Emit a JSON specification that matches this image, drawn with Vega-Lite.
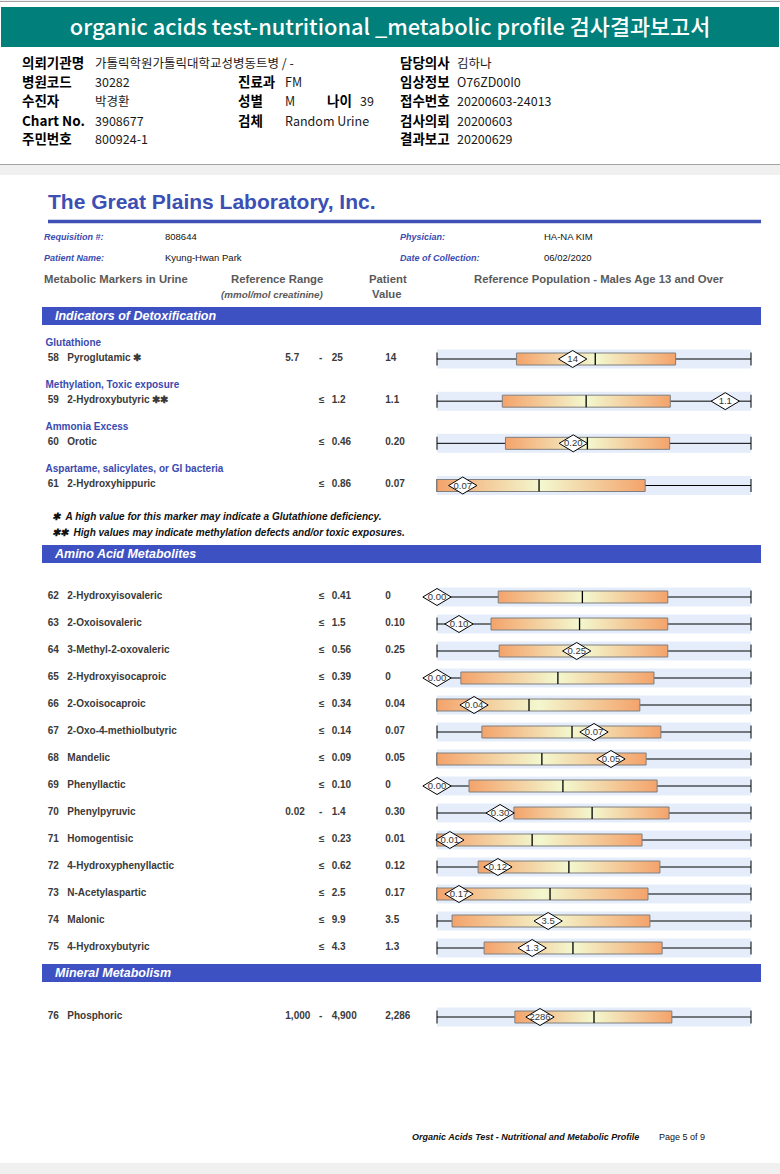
{
"$schema": "https://vega.github.io/schema/vega-lite/v6.json",
"width": 780, "height": 1174, "padding": 0,
"autosize": {"type": "none"},
"background": "#f0f0f0",
"config": {"view": {"stroke": null}, "scale": {"continuousPadding": 0}},
"datasets": {
 "info": [
  {"line":1,"col":1,"kind":"label","text":"의뢰기관명"},
  {"line":1,"col":2,"kind":"value","text":"가톨릭학원가톨릭대학교성병동트병 / -"},
  {"line":1,"col":7,"kind":"label","text":"담당의사"},
  {"line":1,"col":8,"kind":"value","text":"김하나"},
  {"line":2,"col":1,"kind":"label","text":"병원코드"},
  {"line":2,"col":2,"kind":"value","text":"30282"},
  {"line":2,"col":3,"kind":"label","text":"진료과"},
  {"line":2,"col":4,"kind":"value","text":"FM"},
  {"line":2,"col":7,"kind":"label","text":"임상정보"},
  {"line":2,"col":8,"kind":"value","text":"O76ZD00I0"},
  {"line":3,"col":1,"kind":"label","text":"수진자"},
  {"line":3,"col":2,"kind":"value","text":"박경환"},
  {"line":3,"col":3,"kind":"label","text":"성별"},
  {"line":3,"col":4,"kind":"value","text":"M"},
  {"line":3,"col":5,"kind":"label","text":"나이"},
  {"line":3,"col":6,"kind":"value","text":"39"},
  {"line":3,"col":7,"kind":"label","text":"접수번호"},
  {"line":3,"col":8,"kind":"value","text":"20200603-24013"},
  {"line":4,"col":1,"kind":"label","text":"Chart No."},
  {"line":4,"col":2,"kind":"value","text":"3908677"},
  {"line":4,"col":3,"kind":"label","text":"검체"},
  {"line":4,"col":4,"kind":"value","text":"Random Urine"},
  {"line":4,"col":7,"kind":"label","text":"검사의뢰"},
  {"line":4,"col":8,"kind":"value","text":"20200603"},
  {"line":5,"col":1,"kind":"label","text":"주민번호"},
  {"line":5,"col":2,"kind":"value","text":"800924-1"},
  {"line":5,"col":7,"kind":"label","text":"결과보고"},
  {"line":5,"col":8,"kind":"value","text":"20200629"}
 ],
 "req": [
  {"line":1,"col":1,"kind":"label","text":"Requisition #:"},
  {"line":1,"col":2,"kind":"value","text":"808644"},
  {"line":1,"col":3,"kind":"label","text":"Physician:"},
  {"line":1,"col":4,"kind":"value","text":"HA-NA KIM"},
  {"line":2,"col":1,"kind":"label","text":"Patient Name:"},
  {"line":2,"col":2,"kind":"value","text":"Kyung-Hwan Park"},
  {"line":2,"col":3,"kind":"label","text":"Date of Collection:"},
  {"line":2,"col":4,"kind":"value","text":"06/02/2020"}
 ],
 "heads": [
  {"line":1,"col":1,"text":"Metabolic Markers in Urine"},
  {"line":1,"col":3,"text":"Reference Range"},
  {"line":1,"col":4,"text":"Patient"},
  {"line":1,"col":6,"text":"Reference Population - Males Age 13 and Over"},
  {"line":2,"col":2,"text":"(mmol/mol creatinine)"},
  {"line":2,"col":5,"text":"Value"}
 ],
 "sections": [
  {"idx":1,"title":"Indicators of Detoxification"},
  {"idx":2,"title":"Amino Acid Metabolites"},
  {"idx":3,"title":"Mineral Metabolism"}
 ],
 "markers": [
  {"id":58,"group":"Glutathione","name":"Pyroglutamic ✱","lo":"5.7","sep":"-","hi":"25","value":"14","q1":25.3,"median":50.4,"q3":76.0,"patient":43.2,"plabel":"14"},
  {"id":59,"group":"Methylation, Toxic exposure","name":"2-Hydroxybutyric ✱✱","lo":"","sep":"≤","hi":"1.2","value":"1.1","q1":20.8,"median":47.5,"q3":74.3,"patient":91.8,"plabel":"1.1"},
  {"id":60,"group":"Ammonia Excess","name":"Orotic","lo":"","sep":"≤","hi":"0.46","value":"0.20","q1":21.8,"median":47.9,"q3":74.1,"patient":43.4,"plabel":"0.20"},
  {"id":61,"group":"Aspartame, salicylates, or GI bacteria","name":"2-Hydroxyhippuric","lo":"","sep":"≤","hi":"0.86","value":"0.07","q1":0,"median":32.5,"q3":66.3,"patient":8.2,"plabel":"0.07"},
  {"id":62,"name":"2-Hydroxyisovaleric","lo":"","sep":"≤","hi":"0.41","value":"0","q1":19.5,"median":46.3,"q3":73.5,"patient":0,"plabel":"0.00"},
  {"id":63,"name":"2-Oxoisovaleric","lo":"","sep":"≤","hi":"1.5","value":"0.10","q1":17.2,"median":45.4,"q3":73.5,"patient":7.0,"plabel":"0.10"},
  {"id":64,"name":"3-Methyl-2-oxovaleric","lo":"","sep":"≤","hi":"0.56","value":"0.25","q1":19.8,"median":44.9,"q3":73.5,"patient":44.5,"plabel":"0.25"},
  {"id":65,"name":"2-Hydroxyisocaproic","lo":"","sep":"≤","hi":"0.39","value":"0","q1":7.6,"median":38.5,"q3":69.1,"patient":0,"plabel":"0.00"},
  {"id":66,"name":"2-Oxoisocaproic","lo":"","sep":"≤","hi":"0.34","value":"0.04","q1":0,"median":29.3,"q3":64.6,"patient":11.8,"plabel":"0.04"},
  {"id":67,"name":"2-Oxo-4-methiolbutyric","lo":"","sep":"≤","hi":"0.14","value":"0.07","q1":14.3,"median":43.0,"q3":71.3,"patient":50.0,"plabel":"0.07"},
  {"id":68,"name":"Mandelic","lo":"","sep":"≤","hi":"0.09","value":"0.05","q1":0,"median":33.4,"q3":66.6,"patient":55.4,"plabel":"0.05"},
  {"id":69,"name":"Phenyllactic","lo":"","sep":"≤","hi":"0.10","value":"0","q1":10.2,"median":40.1,"q3":70.1,"patient":0,"plabel":"0.00"},
  {"id":70,"name":"Phenylpyruvic","lo":"0.02","sep":"-","hi":"1.4","value":"0.30","q1":24.5,"median":49.4,"q3":73.9,"patient":20.1,"plabel":"0.30"},
  {"id":71,"name":"Homogentisic","lo":"","sep":"≤","hi":"0.23","value":"0.01","q1":0,"median":30.3,"q3":65.3,"patient":4.1,"plabel":"0.01"},
  {"id":72,"name":"4-Hydroxyphenyllactic","lo":"","sep":"≤","hi":"0.62","value":"0.12","q1":13.1,"median":42.0,"q3":71.0,"patient":19.4,"plabel":"0.12"},
  {"id":73,"name":"N-Acetylaspartic","lo":"","sep":"≤","hi":"2.5","value":"0.17","q1":0,"median":36.0,"q3":67.2,"patient":7.0,"plabel":"0.17"},
  {"id":74,"name":"Malonic","lo":"","sep":"≤","hi":"9.9","value":"3.5","q1":4.8,"median":36.3,"q3":67.8,"patient":35.4,"plabel":"3.5"},
  {"id":75,"name":"4-Hydroxybutyric","lo":"","sep":"≤","hi":"4.3","value":"1.3","q1":15.0,"median":43.3,"q3":71.7,"patient":30.3,"plabel":"1.3"},
  {"id":76,"name":"Phosphoric","lo":"1,000","sep":"-","hi":"4,900","value":"2,286","q1":24.8,"median":50.0,"q3":74.8,"patient":32.8,"plabel":"2286"}
 ]
},
"resolve": {"scale": {"x": "independent", "y": "independent"}},
"layer": [
 {
  "data": {"values": [{"sheet": "request header"}]},
  "mark": {"type": "rect", "fill": "#ffffff", "stroke": "#a3a3a3", "strokeWidth": 1},
  "encoding": {
   "x": {"datum": 0, "type": "quantitative", "scale": {"domain": [0, 1], "range": [-2, 782], "nice": false, "zero": false, "padding": 0}, "axis": null},
   "x2": {"datum": 1},
   "y": {"datum": 0, "type": "quantitative", "scale": {"domain": [0, 1], "range": [1.5, 164.5], "nice": false, "zero": false, "padding": 0}, "axis": null},
   "y2": {"datum": 1}
  }
 },
 {
  "data": {"values": [{"sheet": "report page"}]},
  "mark": {"type": "rect", "fill": "#ffffff"},
  "encoding": {
   "x": {"datum": 0, "type": "quantitative", "scale": {"domain": [0, 1], "range": [0, 780], "nice": false, "zero": false, "padding": 0}, "axis": null},
   "x2": {"datum": 1},
   "y": {"datum": 0, "type": "quantitative", "scale": {"domain": [0, 1], "range": [175, 1163], "nice": false, "zero": false, "padding": 0}, "axis": null},
   "y2": {"datum": 1}
  }
 },
 {
  "data": {"values": [{"title": "organic acids test-nutritional _metabolic profile 검사결과보고서"}]},
  "layer": [
   {
    "mark": {"type": "rect", "color": "#007f7b", "opacity": 1},
    "encoding": {
     "x": {"datum": 0, "type": "quantitative", "scale": {"domain": [0, 1], "range": [1, 779], "nice": false, "zero": false, "padding": 0}, "axis": null},
     "x2": {"datum": 1},
     "y": {"datum": 0, "type": "quantitative", "scale": {"domain": [0, 1], "range": [7, 47], "nice": false, "zero": false, "padding": 0}, "axis": null},
     "y2": {"datum": 1}
    }
   },
   {
    "mark": {"type": "text", "color": "#ffffff", "fontSize": 21.8, "font": "Noto Sans CJK KR", "fontWeight": 500, "align": "center", "baseline": "middle", "dy": 1},
    "encoding": {
     "x": {"datum": 0.5, "type": "quantitative", "scale": {"domain": [0, 1], "range": [1, 779], "nice": false, "zero": false, "padding": 0}, "axis": null},
     "y": {"datum": 0.5, "type": "quantitative", "scale": {"domain": [0, 1], "range": [7, 47], "nice": false, "zero": false, "padding": 0}, "axis": null},
     "text": {"field": "title"}
    }
   }
  ]
 },
 {
  "data": {"name": "info"},
  "encoding": {
   "x": {"field": "col", "type": "quantitative", "scale": {"domain": [1, 2, 3, 4, 5, 6, 7, 8], "range": [22, 95, 238, 285, 327, 360, 400, 457], "nice": false, "zero": false}, "axis": null},
   "y": {"field": "line", "type": "quantitative", "scale": {"domain": [1, 2, 3, 4, 5], "range": [64, 83, 102, 122, 140], "nice": false, "zero": false}, "axis": null},
   "text": {"field": "text"}
  },
  "layer": [
   {"transform": [{"filter": {"field": "kind", "equal": "label"}}],
    "mark": {"type": "text", "align": "left", "baseline": "middle", "font": "Noto Sans CJK KR", "fontSize": 13.5, "fontWeight": "bold", "color": "#000000"}},
   {"transform": [{"filter": {"field": "kind", "equal": "value"}}],
    "mark": {"type": "text", "align": "left", "baseline": "middle", "font": "Noto Sans CJK KR", "fontSize": 12.5, "fontWeight": "normal", "color": "#1a1a1a"}}
  ]
 },
 {
  "data": {"values": [{"lab": "The Great Plains Laboratory, Inc."}]},
  "layer": [
   {
    "mark": {"type": "text", "align": "left", "baseline": "middle", "fontSize": 21, "fontWeight": "bold", "color": "#3b4fb4", "font": "Liberation Sans"},
    "encoding": {
     "x": {"datum": 0, "type": "quantitative", "scale": {"domain": [0, 1], "range": [48, 761], "nice": false, "zero": false, "padding": 0}, "axis": null},
     "y": {"datum": 0, "type": "quantitative", "scale": {"domain": [0, 1], "range": [203, 221.5], "nice": false, "zero": false, "padding": 0}, "axis": null},
     "text": {"field": "lab"}
    }
   },
   {
    "mark": {"type": "rule", "color": "#3f51b5", "strokeWidth": 3.5},
    "encoding": {
     "x": {"datum": 0, "type": "quantitative", "scale": {"domain": [0, 1], "range": [48, 761], "nice": false, "zero": false, "padding": 0}, "axis": null},
     "x2": {"datum": 1},
     "y": {"datum": 1, "type": "quantitative", "scale": {"domain": [0, 1], "range": [203, 221.5], "nice": false, "zero": false, "padding": 0}, "axis": null}
    }
   }
  ]
 },
 {
  "data": {"name": "req"},
  "encoding": {
   "x": {"field": "col", "type": "quantitative", "scale": {"domain": [1, 2, 3, 4], "range": [44, 165, 400, 544], "nice": false, "zero": false}, "axis": null},
   "y": {"field": "line", "type": "quantitative", "scale": {"domain": [1, 2], "range": [237, 258], "nice": false, "zero": false}, "axis": null},
   "text": {"field": "text"}
  },
  "layer": [
   {"transform": [{"filter": {"field": "kind", "equal": "label"}}],
    "mark": {"type": "text", "align": "left", "baseline": "middle", "font": "Liberation Sans", "fontSize": 9, "fontWeight": "bold", "fontStyle": "italic", "color": "#3b4cb0"}},
   {"transform": [{"filter": {"field": "kind", "equal": "value"}}],
    "mark": {"type": "text", "align": "left", "baseline": "middle", "font": "Liberation Sans", "fontSize": 9.5, "color": "#111111"}}
  ]
 },
 {
  "data": {"name": "heads"},
  "encoding": {
   "x": {"field": "col", "type": "quantitative", "scale": {"domain": [1, 2, 3, 4, 5, 6], "range": [44, 221, 231, 369, 372, 474], "nice": false, "zero": false}, "axis": null},
   "y": {"field": "line", "type": "quantitative", "scale": {"domain": [1, 2], "range": [280, 295], "nice": false, "zero": false}, "axis": null},
   "text": {"field": "text"}
  },
  "layer": [
   {"transform": [{"filter": "datum.col != 2"}],
    "mark": {"type": "text", "align": "left", "baseline": "middle", "font": "Liberation Sans", "fontSize": 11.3, "fontWeight": "bold", "color": "#5a5a5a"}},
   {"transform": [{"filter": {"field": "col", "equal": 2}}],
    "mark": {"type": "text", "align": "left", "baseline": "middle", "font": "Liberation Sans", "fontSize": 9.8, "fontWeight": "bold", "fontStyle": "italic", "color": "#5a5a5a"}}
  ]
 },
 {
  "data": {"name": "sections"},
  "layer": [
   {
    "mark": {"type": "bar", "color": "#3d51c3", "size": 18, "opacity": 1},
    "encoding": {
     "x": {"datum": 0, "type": "quantitative", "scale": {"domain": [0, 1], "range": [42, 761], "nice": false, "zero": false, "padding": 0}, "axis": null},
     "x2": {"datum": 1},
     "y": {"field": "idx", "type": "quantitative", "scale": {"domain": [1, 2, 3], "range": [316, 554, 973], "nice": false, "zero": false, "padding": 0}, "axis": null}
    }
   },
   {
    "mark": {"type": "text", "align": "left", "baseline": "middle", "dx": 13, "color": "#ffffff", "fontSize": 12.5, "fontWeight": "bold", "fontStyle": "italic", "font": "Liberation Sans Narrow, Liberation Sans"},
    "encoding": {
     "x": {"datum": 0, "type": "quantitative", "scale": {"domain": [0, 1], "range": [42, 761], "nice": false, "zero": false, "padding": 0}, "axis": null},
     "y": {"field": "idx", "type": "quantitative", "scale": {"domain": [1, 2, 3], "range": [316, 554, 973], "nice": false, "zero": false, "padding": 0}, "axis": null},
     "text": {"field": "title"}
    }
   }
  ]
 },
 {
  "data": {"values": [
   {"line": 1, "text": "✱\u00a0\u00a0A high value for this marker may indicate a Glutathione deficiency."},
   {"line": 2, "text": "✱✱\u00a0\u00a0High values may indicate methylation defects and/or toxic exposures."}
  ]},
  "mark": {"type": "text", "align": "left", "baseline": "middle", "font": "Liberation Sans", "fontSize": 10, "fontWeight": "bold", "fontStyle": "italic", "color": "#111111"},
  "encoding": {
   "x": {"datum": 0, "type": "quantitative", "scale": {"domain": [0, 1], "range": [52, 53], "nice": false, "zero": false}, "axis": null},
   "y": {"field": "line", "type": "quantitative", "scale": {"domain": [1, 2], "range": [517, 533], "nice": false, "zero": false}, "axis": null},
   "text": {"field": "text"}
  }
 },
 {
  "data": {"name": "markers"},
  "encoding": {
   "y": {"field": "id", "type": "quantitative", "scale": {"domain": [58, 61, 62, 75, 76], "range": [359, 485.5, 597, 948, 1017], "nice": false, "zero": false, "padding": 0}, "axis": null}
  },
  "resolve": {"scale": {"x": "independent"}},
  "layer": [
   {
    "layer": [
     {
      "transform": [
       {"fold": ["id", "name", "lo", "sep", "hi", "value"], "as": ["key", "cell"]},
       {"lookup": "key", "from": {"data": {"values": [
        {"key": "id", "col": 1}, {"key": "name", "col": 2}, {"key": "lo", "col": 3},
        {"key": "sep", "col": 4}, {"key": "hi", "col": 5}, {"key": "value", "col": 6}
       ]}, "key": "key", "fields": ["col"]}}
      ],
      "mark": {"type": "text", "align": "left", "baseline": "middle", "dy": -1.5, "font": "Liberation Sans", "fontSize": 10, "fontWeight": "bold", "color": "#3a3a3a"},
      "encoding": {
       "x": {"field": "col", "type": "quantitative", "scale": {"domain": [0, 1, 2, 3, 4, 5, 6], "range": [45.5, 47.7, 67.3, 285.3, 319, 331.7, 385.3], "nice": false, "zero": false, "padding": 0}, "axis": null},
       "text": {"field": "cell"}
      }
     },
     {
      "transform": [{"filter": "datum.group != null"}],
      "mark": {"type": "text", "align": "left", "baseline": "middle", "dy": -16.5, "font": "Liberation Sans", "fontSize": 10, "fontWeight": "bold", "color": "#3a4ab0"},
      "encoding": {
       "x": {"datum": 0, "type": "quantitative", "scale": {"domain": [0, 1, 2, 3, 4, 5, 6], "range": [45.5, 47.7, 67.3, 285.3, 319, 331.7, 385.3], "nice": false, "zero": false, "padding": 0}, "axis": null},
       "text": {"field": "group"}
      }
     }
    ]
   },
   {
    "layer": [
     {
      "mark": {"type": "bar", "size": 19, "color": "#e5edfb", "opacity": 1},
      "encoding": {
       "x": {"datum": 0, "type": "quantitative", "scale": {"domain": [0, 100], "range": [437, 751], "nice": false, "zero": false, "padding": 0}, "axis": null},
       "x2": {"datum": 100}
      }
     },
     {
      "mark": {"type": "rule", "color": "#000000", "strokeWidth": 1},
      "encoding": {
       "x": {"datum": 0, "type": "quantitative", "scale": {"domain": [0, 100], "range": [437, 751], "nice": false, "zero": false, "padding": 0}, "axis": null},
       "x2": {"datum": 100}
      }
     },
     {
      "mark": {"type": "tick", "orient": "vertical", "size": 13, "thickness": 1, "color": "#000000", "opacity": 1},
      "encoding": {
       "x": {"datum": 0, "type": "quantitative", "scale": {"domain": [0, 100], "range": [437, 751], "nice": false, "zero": false, "padding": 0}, "axis": null}
      }
     },
     {
      "mark": {"type": "tick", "orient": "vertical", "size": 13, "thickness": 1, "color": "#000000", "opacity": 1},
      "encoding": {
       "x": {"datum": 100, "type": "quantitative", "scale": {"domain": [0, 100], "range": [437, 751], "nice": false, "zero": false, "padding": 0}, "axis": null}
      }
     },
     {
      "mark": {"type": "bar", "size": 12, "opacity": 1, "stroke": "#7f7f7f", "strokeWidth": 1,
       "fill": {"gradient": "linear", "stops": [
        {"offset": 0, "color": "#f4a36b"},
        {"offset": 0.5, "color": "#f3f8cf"},
        {"offset": 1, "color": "#f4a36b"}
       ]}},
      "encoding": {
       "x": {"field": "q1", "type": "quantitative", "scale": {"domain": [0, 100], "range": [437, 751], "nice": false, "zero": false, "padding": 0}, "axis": null},
       "x2": {"field": "q3"}
      }
     },
     {
      "mark": {"type": "tick", "orient": "vertical", "size": 12, "thickness": 1.3, "color": "#000000", "opacity": 1},
      "encoding": {
       "x": {"field": "median", "type": "quantitative", "scale": {"domain": [0, 100], "range": [437, 751], "nice": false, "zero": false, "padding": 0}, "axis": null}
      }
     },
     {
      "mark": {"type": "point", "shape": "M -1 0 L 0 -0.6 L 1 0 L 0 0.6 Z", "size": 800, "filled": true, "fill": "#ffffff", "stroke": "#000000", "strokeWidth": 1, "opacity": 1},
      "encoding": {
       "x": {"field": "patient", "type": "quantitative", "scale": {"domain": [0, 100], "range": [437, 751], "nice": false, "zero": false, "padding": 0}, "axis": null}
      }
     },
     {
      "mark": {"type": "text", "align": "center", "baseline": "middle", "font": "Liberation Sans", "fontSize": 9.5, "color": "#333333"},
      "encoding": {
       "x": {"field": "patient", "type": "quantitative", "scale": {"domain": [0, 100], "range": [437, 751], "nice": false, "zero": false, "padding": 0}, "axis": null},
       "text": {"field": "plabel"}
      }
     }
    ]
   }
  ]
 },
 {
  "data": {"values": [
   {"col": 1, "text": "Organic Acids Test - Nutritional and Metabolic Profile"},
   {"col": 2, "text": "Page 5 of 9"}
  ]},
  "encoding": {
   "x": {"field": "col", "type": "quantitative", "scale": {"domain": [1, 2], "range": [412, 659], "nice": false, "zero": false}, "axis": null},
   "y": {"datum": 0, "type": "quantitative", "scale": {"domain": [0, 1], "range": [1137, 1150], "nice": false, "zero": false}, "axis": null},
   "text": {"field": "text"}
  },
  "layer": [
   {"transform": [{"filter": {"field": "col", "equal": 1}}],
    "mark": {"type": "text", "align": "left", "baseline": "middle", "font": "Liberation Sans", "fontSize": 9, "fontWeight": "bold", "fontStyle": "italic", "color": "#111111"}},
   {"transform": [{"filter": {"field": "col", "equal": 2}}],
    "mark": {"type": "text", "align": "left", "baseline": "middle", "font": "Liberation Sans", "fontSize": 9, "color": "#111111"}}
  ]
 }
]
}
